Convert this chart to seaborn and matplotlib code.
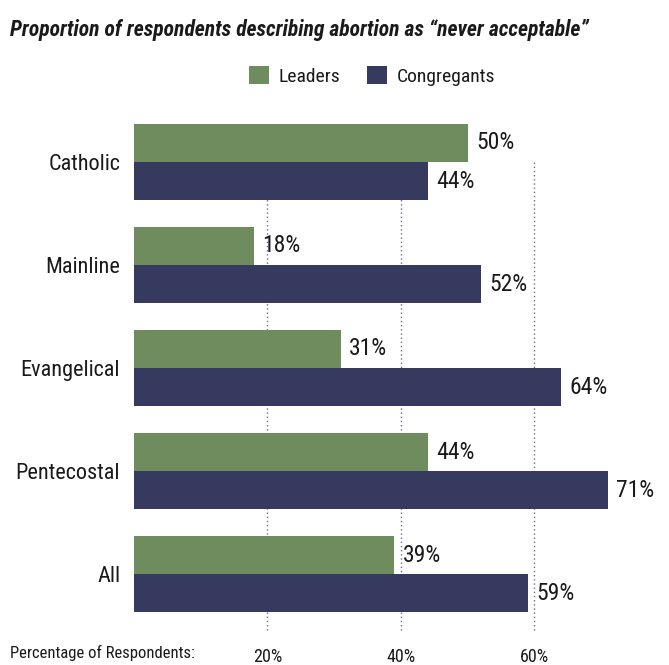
import matplotlib
matplotlib.use("Agg")
import matplotlib.pyplot as plt
from matplotlib import font_manager as fm
from matplotlib.patches import Patch
import seaborn as sns
import pandas as pd

categories = ["Catholic", "Mainline", "Evangelical", "Pentecostal", "All"]
leaders = [50, 18, 31, 44, 39]
congregants = [44, 52, 64, 71, 59]
series_names = ["Leaders", "Congregants"]
tick_values = [20, 40, 60]
tick_labels = ["20%", "40%", "60%"]

GREEN = "#6f8c5e"
NAVY = "#353a5e"
TEXT = "#1a1a1a"


def pick_condensed_family():
    """Prefer a narrow/condensed sans if one is installed."""
    names = {f.name for f in fm.fontManager.ttflist}
    for fam in ["Liberation Sans Narrow", "Roboto Condensed", "Open Sans Condensed",
                "Noto Sans Condensed", "DejaVu Sans Condensed", "Arial Narrow"]:
        if fam in names:
            return fam, "normal"
    for f in fm.fontManager.ttflist:
        st = str(f.stretch).lower()
        if "condensed" in st or "narrow" in f.name.lower() or "condensed" in f.name.lower():
            return f.name, f.stretch
    return "Liberation Sans", "normal"


FAMILY, STRETCH = pick_condensed_family()

sns.set_theme(style="white")
plt.rcParams["font.family"] = [FAMILY, "DejaVu Sans"]
plt.rcParams["font.stretch"] = STRETCH

df = pd.DataFrame({
    "group": categories * 2,
    "series": [series_names[0]] * len(categories) + [series_names[1]] * len(categories),
    "value": leaders + congregants,
})

W, H = 669, 665
fig = plt.figure(figsize=(W / 100, H / 100), dpi=100)
# axes box in pixel terms: left 134, right 661, top 110, bottom 640
ax = fig.add_axes([134 / W, 1 - 640 / H, (661 - 134) / W, (640 - 110) / H])

sns.barplot(data=df, y="group", x="value", hue="series", order=categories,
            hue_order=series_names, palette=[GREEN, NAVY], width=0.74,
            orient="h", ax=ax, legend=False, saturation=1, zorder=2,
            linewidth=0, edgecolor="none")

ax.set_xlim(0, 79)
ax.set_ylim(4.64, -0.505)

# dotted reference lines behind the bars
ax.vlines(tick_values, ymin=0, ymax=4.56, colors="#6a6e96",
          linestyles=(0, (1, 2)), linewidth=1.0, zorder=0)

for cont in ax.containers:
    vals = [p.get_width() for p in cont.patches]
    ax.bar_label(cont, labels=[f"{v:.0f}%" for v in vals], padding=6,
                 fontsize=17, color=TEXT)

for s in ax.spines.values():
    s.set_visible(False)
ax.set_xlabel("")
ax.set_ylabel("")
ax.tick_params(axis="both", length=0)
ax.tick_params(axis="y", labelsize=16, labelcolor=TEXT, pad=10)
ax.set_xticks(tick_values)
ax.set_xticklabels(tick_labels, fontsize=13, color=TEXT)
ax.tick_params(axis="x", pad=6)

fig.text(10 / W, 1 - 653 / H, "Percentage of Respondents:", fontsize=12,
         color=TEXT, va="center", ha="left")

fig.text(10 / W, 1 - 30 / H,
         "Proportion of respondents describing abortion as \u201cnever acceptable\u201d",
         fontsize=15.6, fontweight="bold", fontstyle="italic", color=TEXT,
         va="center", ha="left")

handles = [Patch(facecolor=GREEN, edgecolor="none"),
           Patch(facecolor=NAVY, edgecolor="none")]
fig.legend(handles, series_names, loc="center", bbox_to_anchor=(372 / W, 1 - 76 / H),
           ncol=2, frameon=False, fontsize=14, handlelength=1.0, handleheight=1.0,
           handletextpad=0.5, columnspacing=1.4, labelcolor=TEXT)

fig.savefig("out.png", dpi=100)
